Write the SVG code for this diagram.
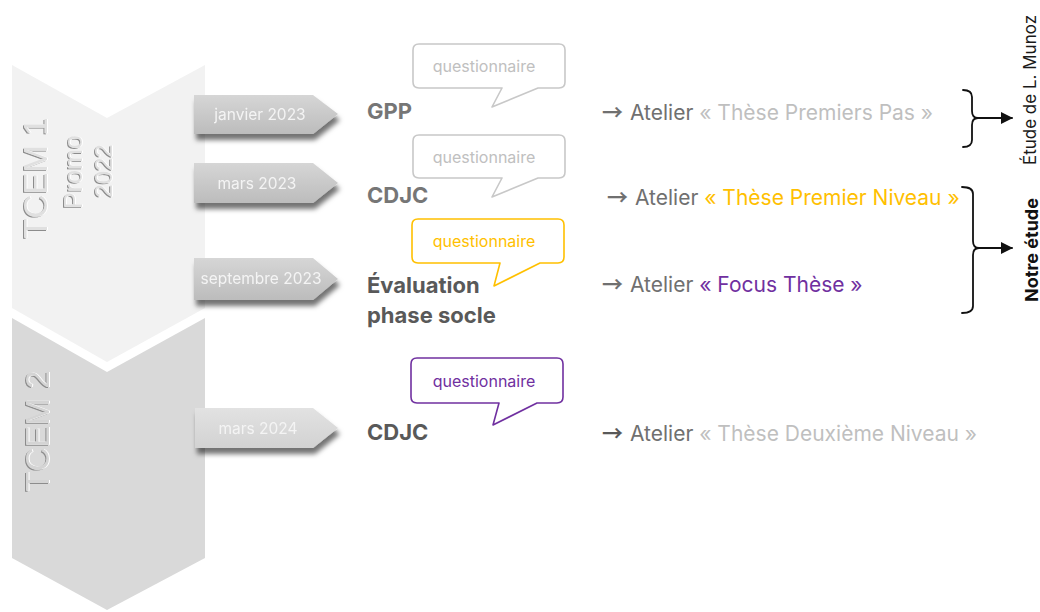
<svg xmlns="http://www.w3.org/2000/svg" width="1040" height="612" viewBox="0 0 1040 612">
  <style>
    .lbl { font-family: Inter, "Liberation Sans", sans-serif; font-weight: 700; font-size: 22px; }
    .atl { font-family: Inter, "Liberation Sans", sans-serif; font-size: 21px; fill: #707070; }
    .arw { font-family: "Noto Sans CJK JP", "DejaVu Sans", sans-serif; font-size: 21px; font-weight: 700; }
    .q { font-family: Inter, "Liberation Sans", sans-serif; font-size: 16px; text-anchor: middle; }
    .tag { font-family: Inter, "Liberation Sans", sans-serif; font-size: 15.5px; fill: #f4f4f4; text-anchor: middle; }
    .phase { font-family: "Liberation Sans", sans-serif; text-anchor: middle; }
    .brace { fill: none; stroke: #111; stroke-width: 1.8; stroke-linecap: round; stroke-linejoin: round; }
    .bub { fill: #fff; stroke-width: 1.6; stroke-linejoin: round; }
  </style>
  <defs>
    <linearGradient id="tagDark" x1="0" y1="0" x2="0" y2="1">
      <stop offset="0" stop-color="#d6d6d6"/>
      <stop offset="1" stop-color="#bcbcbc"/>
    </linearGradient>
    <linearGradient id="tagLight" x1="0" y1="0" x2="0" y2="1">
      <stop offset="0" stop-color="#e2e2e2"/>
      <stop offset="1" stop-color="#d2d2d2"/>
    </linearGradient>
    <filter id="tagShadow" x="-10%" y="-20%" width="125%" height="160%">
      <feGaussianBlur in="SourceAlpha" stdDeviation="2.5"/>
      <feOffset dx="2" dy="6" result="b"/>
      <feFlood flood-color="#000" flood-opacity="0.55"/>
      <feComposite in2="b" operator="in" result="s"/>
      <feMerge><feMergeNode in="s"/><feMergeNode in="SourceGraphic"/></feMerge>
    </filter>
    <filter id="emboss" x="-10%" y="-10%" width="120%" height="120%">
      <feOffset in="SourceAlpha" dx="-1.2" dy="0.6" result="o"/>
      <feFlood flood-color="#8c8c8c"/>
      <feComposite in2="o" operator="in" result="d"/>
      <feOffset in="SourceAlpha" dx="0.8" dy="-0.4" result="o2"/>
      <feFlood flood-color="#ffffff"/>
      <feComposite in2="o2" operator="in" result="l"/>
      <feMerge><feMergeNode in="d"/><feMergeNode in="l"/><feMergeNode in="SourceGraphic"/></feMerge>
    </filter>
    <marker id="arrowHead" viewBox="0 0 12 12" refX="11" refY="6" markerWidth="12" markerHeight="12" markerUnits="userSpaceOnUse" orient="auto">
      <path d="M0,0 L12,6 L0,12 Z" fill="#111"/>
    </marker>
  </defs>

  <rect width="1040" height="612" fill="#ffffff"/>

  <!-- phase chevrons -->
  <g id="phase-tcem1">
    <path d="M12,65 L107,118 L205,65 L205,308 L107,362 L12,308 Z" fill="#f2f2f2"/>
    <g filter="url(#emboss)">
      <text class="phase" transform="translate(47,178) rotate(-90)" font-size="33" fill="#e0e0e0">TCEM 1</text>
      <text class="phase" transform="translate(82,172) rotate(-90)" font-size="25" fill="#e0e0e0">Promo</text>
      <text class="phase" transform="translate(112,171) rotate(-90)" font-size="24" fill="#e0e0e0">2022</text>
    </g>
  </g>
  <g id="phase-tcem2">
    <path d="M12,318 L107,372 L205,318 L205,558 L107,610 L12,558 Z" fill="#d9d9d9"/>
    <g filter="url(#emboss)">
      <text class="phase" transform="translate(49,431) rotate(-90)" font-size="33" fill="#d4d4d4">TCEM 2</text>
    </g>
  </g>

  <!-- date tags -->
  <g id="tag-janvier-2023" filter="url(#tagShadow)">
    <path d="M194,95 H313 L338,114 L313,134 H194 Z" fill="url(#tagDark)"/>
    <text class="tag" x="260" y="119.5">janvier 2023</text>
  </g>
  <g id="tag-mars-2023" filter="url(#tagShadow)">
    <path d="M194,163 H313 L338,183 L313,203 H194 Z" fill="url(#tagDark)"/>
    <text class="tag" x="257" y="188.5">mars 2023</text>
  </g>
  <g id="tag-septembre-2023" filter="url(#tagShadow)">
    <path d="M194,258 H313 L338,279 L313,300 H194 Z" fill="url(#tagDark)"/>
    <text class="tag" x="261" y="283.5">septembre 2023</text>
  </g>
  <g id="tag-mars-2024" filter="url(#tagShadow)">
    <path d="M195,408 H313 L338,428 L313,448 H195 Z" fill="url(#tagLight)"/>
    <text class="tag" x="258" y="433.5">mars 2024</text>
  </g>

  <!-- questionnaire bubbles -->
  <g id="bubble-gpp">
    <path class="bub" stroke="#c8c8c8" d="M419,44 H559 Q565,44 565,50 V82 Q565,88 559,88 H538 L492,107 L502,88 H419 Q413,88 413,82 V50 Q413,44 419,44 Z"/>
    <text class="q" x="484" y="72" fill="#c0c0c0">questionnaire</text>
  </g>
  <g id="bubble-cdjc1">
    <path class="bub" stroke="#c8c8c8" d="M419,135 H559 Q565,135 565,141 V172 Q565,178 559,178 H538 L492,197 L502,178 H419 Q413,178 413,172 V141 Q413,135 419,135 Z"/>
    <text class="q" x="484" y="163" fill="#c0c0c0">questionnaire</text>
  </g>
  <g id="bubble-evaluation">
    <path class="bub" stroke="#ffc000" d="M418,219 H558 Q564,219 564,225 V257 Q564,263 558,263 H540 L494,286 L500,263 H418 Q412,263 412,257 V225 Q412,219 418,219 Z"/>
    <text class="q" x="484" y="247" fill="#ffc000">questionnaire</text>
  </g>
  <g id="bubble-cdjc2">
    <path class="bub" stroke="#7030a0" d="M417,358 H557 Q563,358 563,364 V397 Q563,403 557,403 H537 L493,425 L499,403 H417 Q411,403 411,397 V364 Q411,358 417,358 Z"/>
    <text class="q" x="484" y="387" fill="#7030a0">questionnaire</text>
  </g>

  <!-- evaluation labels -->
  <g id="label-gpp"><text class="lbl" x="367" y="119" fill="#767676">GPP</text></g>
  <g id="label-cdjc1"><text class="lbl" x="367" y="203" fill="#767676">CDJC</text></g>
  <g id="label-evaluation">
    <text class="lbl" x="367" y="293" fill="#595959">Évaluation</text>
    <text class="lbl" x="367" y="323" fill="#595959">phase socle</text>
  </g>
  <g id="label-cdjc2"><text class="lbl" x="367" y="440" fill="#595959">CDJC</text></g>

  <!-- workshops -->
  <g id="atelier-premiers-pas">
    <text class="arw" x="602" y="120" fill="#707070">→</text>
    <text class="atl" x="630" y="120">Atelier <tspan fill="#bfbfbf">« Thèse Premiers Pas »</tspan></text>
  </g>
  <g id="atelier-premier-niveau">
    <text class="arw" x="607" y="205" fill="#707070">→</text>
    <text class="atl" x="635" y="205">Atelier <tspan fill="#ffc000">« Thèse Premier Niveau »</tspan></text>
  </g>
  <g id="atelier-focus">
    <text class="arw" x="602" y="292" fill="#707070">→</text>
    <text class="atl" x="630" y="292">Atelier <tspan fill="#7030a0">« Focus Thèse »</tspan></text>
  </g>
  <g id="atelier-deuxieme-niveau">
    <text class="arw" x="602" y="441" fill="#595959">→</text>
    <text class="atl" x="630" y="441" fill="#595959">Atelier <tspan fill="#bfbfbf">« Thèse Deuxième Niveau »</tspan></text>
  </g>

  <!-- study groupings -->
  <g id="connectors">
    <path class="brace" d="M963,90 Q972,90 972,97 V111 Q972,118 978,118 Q972,118 972,125 V140 Q972,147 963,147"/>
    <line class="brace" x1="978" y1="118" x2="1012" y2="118" marker-end="url(#arrowHead)"/>
    <path class="brace" d="M962,187 Q973,187 973,194 V241 Q973,248 979,248 Q973,248 973,255 V306 Q973,313 962,313"/>
    <line class="brace" x1="979" y1="248" x2="1012" y2="248" marker-end="url(#arrowHead)"/>
  </g>
  <g id="study-munoz">
    <text transform="translate(1036,90) rotate(-90)" text-anchor="middle" font-family="Inter, 'Liberation Sans', sans-serif" font-size="17" fill="#1a1a1a">Étude de L. Munoz</text>
  </g>
  <g id="study-ours">
    <text transform="translate(1038,250) rotate(-90)" text-anchor="middle" font-family="Inter, 'Liberation Sans', sans-serif" font-size="18" font-weight="700" fill="#111">Notre étude</text>
  </g>
</svg>
